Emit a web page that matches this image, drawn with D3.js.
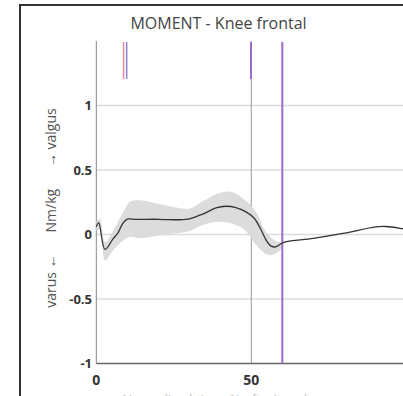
<!DOCTYPE html>
<html>
<head>
<meta charset="utf-8">
<script src="https://cdn.jsdelivr.net/npm/d3@7"></script>
<style>
  body { margin: 0; background: #fff; }
  svg { display: block; font-family: "Open Sans", sans-serif; }
</style>
</head>
<body>
<div id="chart"></div>
<script>
// mean curve (% gait cycle -> Nm/kg)
var meanT = [0, 0.8, 2.8, 5.5, 6.9, 8.5, 10, 12, 20, 28, 30, 34.3, 38.6, 41.8, 45, 48.3, 51, 53.1, 54.8, 56.4, 57.8, 59.7, 61.1, 70, 80, 90.1, 93.4, 98.6, 100];
var meanV = [0.06, 0.09, -0.116, -0.03, 0.008, 0.085, 0.12, 0.118, 0.118, 0.115, 0.122, 0.158, 0.206, 0.219, 0.209, 0.175, 0.124, 0.039, -0.044, -0.09, -0.096, -0.07, -0.057, -0.03, 0.01, 0.059, 0.062, 0.046, 0.04];

// normal band (stance only)
var bandT = [0, 1.2, 2.8, 5.5, 8.7, 10.9, 14, 19.5, 24.8, 30, 34, 39.4, 43.7, 48, 51.2, 54.4, 56.6, 58.6, 60];
var bandHi = [0.1, 0.12, -0.06, 0.03, 0.175, 0.253, 0.266, 0.24, 0.214, 0.2, 0.253, 0.318, 0.33, 0.266, 0.188, 0.033, -0.03, -0.057, -0.06];
var bandLo = [0.03, 0.04, -0.2, -0.12, -0.044, -0.018, -0.03, -0.01, 0.008, 0.025, 0.072, 0.098, 0.085, 0.033, -0.07, -0.147, -0.16, -0.135, -0.1];

// gait events
var eventT = [8.8, 9.8, 49.9];
var eventColor = ["#f08a9a", "#8a84e0", "#9b6cc8"];
var toeOff = 60;

var xTicks = [0, 50];
var yTicks = [-1, -0.5, 0, 0.5, 1];

var svg = d3.select("#chart").append("svg")
    .attr("width", 403)
    .attr("height", 396);

// outer frame
svg.append("rect")
    .attr("x", 20).attr("y", 5)
    .attr("width", 420).attr("height", 420)
    .style("fill", "none")
    .style("stroke", "#333")
    .style("stroke-width", 2);

var x = d3.scaleLinear().domain([0, 100]).range([96.3, 406.3]);
var y = d3.scaleLinear().domain([-1, 1.5]).range([363.5, 41]);

// title
svg.append("text")
    .attr("x", 218.5).attr("y", 29)
    .attr("text-anchor", "middle")
    .style("font-size", "16px")
    .style("fill", "#444")
    .text("MOMENT - Knee frontal");

// horizontal grid
svg.append("g").selectAll("line")
    .data(yTicks.filter(function(d){ return d > -1; }))
    .enter().append("line")
    .attr("x1", x(0)).attr("x2", 403)
    .attr("y1", function(d){ return y(d); })
    .attr("y2", function(d){ return y(d); })
    .style("stroke", "#dcdcdc")
    .style("stroke-width", 1.5);

// vertical grid at 50
svg.append("line")
    .attr("x1", x(50)).attr("x2", x(50))
    .attr("y1", y(1.5)).attr("y2", y(-1))
    .style("stroke", "#9a9a9a")
    .style("stroke-width", 1);

// axes lines
svg.append("line")
    .attr("x1", x(0)).attr("x2", x(0))
    .attr("y1", y(1.5)).attr("y2", y(-1))
    .style("stroke", "#888").style("stroke-width", 1);
svg.append("line")
    .attr("x1", x(0)).attr("x2", 403)
    .attr("y1", y(-1)).attr("y2", y(-1))
    .style("stroke", "#666").style("stroke-width", 1.5);

// band
var band = bandT.map(function(t, i){ return {t: t, hi: bandHi[i], lo: bandLo[i]}; });
svg.append("path")
    .datum(band)
    .attr("d", d3.area()
        .x(function(d){ return x(d.t); })
        .y0(function(d){ return y(d.lo); })
        .y1(function(d){ return y(d.hi); })
        .curve(d3.curveCatmullRom))
    .style("fill", "#dadada")
    .style("opacity", 0.95);

// event ticks at top
svg.append("g").selectAll("line")
    .data(eventT)
    .enter().append("line")
    .attr("x1", function(d){ return x(d); })
    .attr("x2", function(d){ return x(d); })
    .attr("y1", y(1.5) + 1).attr("y2", 79)
    .style("stroke", function(d, i){ return eventColor[i]; })
    .style("stroke-width", function(d, i){ return i == 2 ? 2 : 1.5; });

// toe off full line
svg.append("line")
    .attr("x1", x(toeOff)).attr("x2", x(toeOff))
    .attr("y1", y(1.5) + 1).attr("y2", y(-1))
    .style("stroke", "#9b6cc8")
    .style("stroke-width", 2);

// mean curve
var mean = meanT.map(function(t, i){ return {t: t, v: meanV[i]}; });
svg.append("path")
    .datum(mean)
    .attr("d", d3.line()
        .x(function(d){ return x(d.t); })
        .y(function(d){ return y(d.v); })
        .curve(d3.curveCatmullRom))
    .style("fill", "none")
    .style("stroke", "#333")
    .style("stroke-width", 1.3);

// tick labels
svg.append("g").selectAll("text")
    .data(yTicks)
    .enter().append("text")
    .attr("x", 92)
    .attr("y", function(d){ return y(d); })
    .attr("dy", "0.35em")
    .attr("text-anchor", "end")
    .style("font-size", "13px")
    .style("font-weight", "bold")
    .style("fill", "#333")
    .text(function(d){ return d; });

svg.append("g").selectAll("text")
    .data(xTicks)
    .enter().append("text")
    .attr("x", function(d){ return x(d); })
    .attr("y", 385)
    .attr("text-anchor", "middle")
    .style("font-size", "14px")
    .style("font-weight", "bold")
    .style("fill", "#333")
    .text(function(d){ return d; });

// axis titles
svg.append("text")
    .attr("transform", "translate(56,208) rotate(-90)")
    .attr("text-anchor", "middle")
    .style("font-size", "14px")
    .style("fill", "#555")
    .style("white-space", "pre")
    .text("varus \u2190      Nm/kg      \u2192 valgus");

svg.append("text")
    .attr("x", 218.5).attr("y", 404)
    .attr("text-anchor", "middle")
    .style("font-size", "13px")
    .style("fill", "#bbb")
    .text("Normalized time: % of gait cycle");
</script>
</body>
</html>
